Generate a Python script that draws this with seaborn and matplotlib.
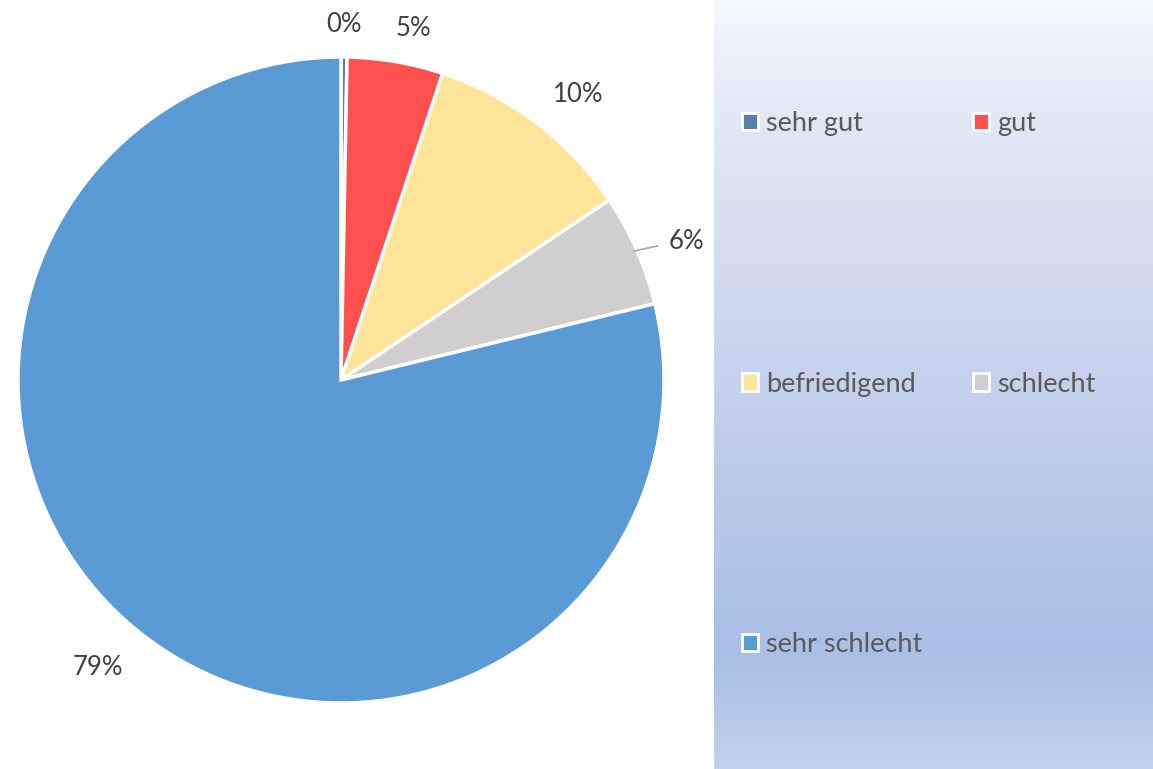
import numpy as np
import seaborn as sns
import matplotlib.pyplot as plt
from matplotlib.patches import Patch
from matplotlib.colors import LinearSegmentedColormap

sns.set_theme(style="white")
plt.rcParams['font.family'] = ['Lato', 'DejaVu Sans']

# Data (shares)
categories = ['sehr gut', 'gut', 'befriedigend', 'schlecht', 'sehr schlecht']
shares = [0.3, 4.8, 10.5, 5.6, 78.8]
colors = ['#5a7faf', '#ff5050', '#ffe599', '#d0cece', '#5b9bd5']

W, H = 1153, 769
fig = plt.figure(figsize=(W / 100, H / 100), dpi=100)
fig.patch.set_facecolor('white')

# gradient panel on the right
bg = fig.add_axes([714 / W, 0, 1 - 714 / W, 1])
grad_cmap = LinearSegmentedColormap.from_list(
    'panel',
    [(0.0, '#f6f8fc'), (0.05, '#eef2fb'), (0.15, '#e2e8f5'), (0.35, '#d3dcef'),
     (0.6, '#bccbea'), (0.85, '#aabfe6'), (1.0, '#c2d1ec')])
bg.imshow(np.linspace(0, 1, 256).reshape(-1, 1), aspect='auto', cmap=grad_cmap,
          extent=[0, 1, 1, 0])
bg.set_axis_off()

# pie
R = 323
cx, cy = 341, 380
ax = fig.add_axes([(cx - R) / W, (H - cy - R) / H, 2 * R / W, 2 * R / H])
wedges, _, autotexts = ax.pie(
    shares, colors=colors, startangle=90, counterclock=False,
    autopct='%.0f%%', pctdistance=1.14,
    wedgeprops=dict(edgecolor='white', linewidth=2.5),
    textprops=dict(fontsize=18.5, color='#404040'))
ax.set_aspect('equal')
ax.set_xlim(-1, 1)
ax.set_ylim(-1, 1)

# outside-end label placement (radius factor and angle tweak per slice)
label_r = [1.10, 1.11, 1.15, None, 1.165]
label_dtheta = [0, -2, -2.5, 0, -2]
for w, t, r, dth in zip(wedges, autotexts, label_r, label_dtheta):
    if r is None:
        continue
    a = np.deg2rad((w.theta1 + w.theta2) / 2 + dth)
    t.set_position((r * np.cos(a), r * np.sin(a)))

# leader line for the small grey slice
w = wedges[3]
mid = np.deg2rad((w.theta1 + w.theta2) / 2)
ax.plot([0.99 * np.cos(mid), 1.07 * np.cos(mid)],
        [0.99 * np.sin(mid), 1.03 * np.sin(mid)], color='#a6a6a6', lw=1.2,
        clip_on=False)
autotexts[3].set_position((1.12 * np.cos(mid) + 0.045, 1.04 * np.sin(mid) + 0.01))

# legend, row-major order for ncol=2
order = [0, 2, 4, 1, 3]
handles = [Patch(facecolor=colors[i], edgecolor='white', linewidth=2) for i in order]
labels = [categories[i] for i in order]
leg = fig.legend(handles, labels, ncol=2, loc='upper left',
                 bbox_to_anchor=(742 / W, 1 - 111 / H), frameon=False,
                 fontsize=19.5, labelcolor='#595959', handlelength=0.6,
                 handleheight=0.6, handletextpad=0.3, columnspacing=1.85,
                 labelspacing=8.7, borderpad=0, borderaxespad=0)

fig.savefig('out.png', dpi=100)
